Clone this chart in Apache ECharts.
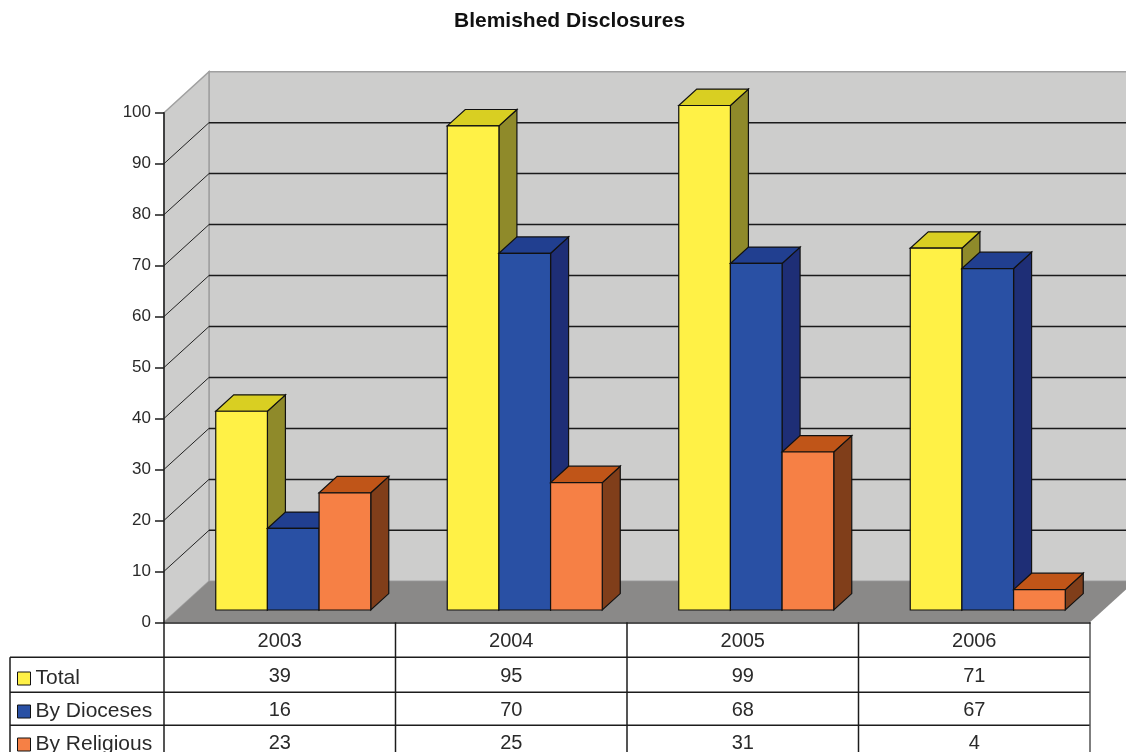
<!DOCTYPE html>
<html>
<head>
<meta charset="utf-8">
<style>html,body{margin:0;padding:0;background:#fff}#main{width:1126px;height:752px}</style>
<script src="https://cdn.jsdelivr.net/npm/echarts@6/dist/echarts.min.js"></script>
</head>
<body>
<div id="main"></div>
<script>
const categories = ['2003', '2004', '2005', '2006']
const total = [39, 95, 99, 71]
const byDioceses = [16, 70, 68, 67]
const byReligious = [23, 25, 31, 4]
const yTicks = [10, 20, 30, 40, 50, 60, 70, 80, 90]

// colours per series: front, top, side
const yellow = ['#fff146', '#d9cf22', '#8f8a2a']
const blue = ['#2950a4', '#213f90', '#1e2e76']
const orange = ['#f68045', '#c05518', '#803e1a']

// depth of the fake 3d box, in pixels
const depthX = 45
const depthY = 41
const font = 'Liberation Sans, Arial, sans-serif'
const lineColor = '#1c1c1c'

const chart = echarts.init(document.getElementById('main'))

function poly (points, fill, stroke, width) {
  return {
    type: 'polygon',
    shape: { points },
    style: { fill, stroke: stroke || '#111', lineWidth: width === undefined ? 1.2 : width }
  }
}

function seg (x1, y1, x2, y2, stroke, width) {
  return {
    type: 'line',
    shape: { x1, y1, x2, y2 },
    style: { stroke, lineWidth: width || 1.5, fill: null }
  }
}

function renderWalls (params, api) {
  const c = params.coordSys
  const l = c.x
  const r = c.x + c.width
  const t = c.y
  const b = c.y + c.height
  const children = [
    poly([[l + depthX, t - depthY], [r + depthX, t - depthY], [r + depthX, b - depthY], [l + depthX, b - depthY]], '#cdcdcc', '#a0a0a0', 1.5),
    poly([[l, t], [l + depthX, t - depthY], [l + depthX, b - depthY], [l, b]], '#cdcdcc', '#a0a0a0', 1.5),
    poly([[l, b], [l + depthX, b - depthY], [r + depthX, b - depthY], [r, b]], '#8a8988', '#8a8988', 0)
  ]
  yTicks.forEach(v => {
    const y = api.coord([0, v])[1]
    children.push(seg(l, y, l + depthX, y - depthY, '#222', 1))
    children.push(seg(l + depthX, y - depthY, r + depthX, y - depthY, '#1a1a1a', 1.5))
  })
  return { type: 'group', children }
}

function renderTable (params, api) {
  const c = params.coordSys
  const l = c.x
  const r = c.x + c.width
  const b = c.y + c.height
  const rows = [35, 70, 103]
  const children = []
  rows.forEach(dy => {
    children.push(seg(10, b + dy, r, b + dy, lineColor))
  })
  children.push(seg(10, b + 35, 10, 752, lineColor))
  categories.forEach((name, i) => {
    const x = l + c.width * i / categories.length
    children.push(seg(x, b, x, 752, lineColor))
  })
  children.push(seg(r, b, r, 752, '#555'))
  return { type: 'group', children }
}

function barSeries (name, values, index, colors) {
  return {
    name,
    type: 'custom',
    coordinateSystem: 'cartesian2d',
    z: 3,
    itemStyle: { color: colors[0], borderColor: '#111', borderWidth: 1 },
    data: values.map((v, i) => [i, v]),
    renderItem (params, api) {
      const band = api.size([1, 0])[0]
      const width = band * 0.2232
      const base = api.coord([api.value(0), 0])
      const top = api.coord([api.value(0), api.value(1)])
      // bars stand 30% into the floor and are 40% of it deep
      const x0 = base[0] - width * 1.5 + width * index + depthX * 0.3
      const x1 = x0 + width
      const y0 = base[1] - depthY * 0.3
      const y1 = top[1] - depthY * 0.3
      const dx = depthX * 0.4
      const dy = depthY * 0.4
      const rowY = params.coordSys.y + params.coordSys.height + [54, 88, 121][index]
      return {
        type: 'group',
        children: [
          poly([[x1, y1], [x1 + dx, y1 - dy], [x1 + dx, y0 - dy], [x1, y0]], colors[2]),
          poly([[x0, y1], [x0 + dx, y1 - dy], [x1 + dx, y1 - dy], [x1, y1]], colors[1]),
          poly([[x0, y1], [x1, y1], [x1, y0], [x0, y0]], colors[0]),
          {
            type: 'text',
            style: {
              x: base[0],
              y: rowY,
              text: String(api.value(1)),
              font: '20px ' + font,
              fill: '#2a2a2a',
              textAlign: 'center',
              textVerticalAlign: 'middle'
            }
          }
        ]
      }
    }
  }
}

chart.setOption({
  animation: false,
  title: {
    text: 'Blemished Disclosures',
    left: 449,
    top: 6,
    textStyle: { fontFamily: font, fontSize: 21, fontWeight: 'bold', color: '#111' }
  },
  legend: {
    orient: 'vertical',
    left: 17,
    top: 668,
    height: 120,
    padding: 0,
    itemWidth: 13,
    itemHeight: 13,
    itemGap: 12,
    icon: 'rect',
    selectedMode: false,
    textStyle: { fontFamily: font, fontSize: 21, color: '#2a2a2a' },
    data: [
      { name: 'Total', itemStyle: { color: yellow[0], borderColor: '#111', borderWidth: 1 } },
      { name: 'By Dioceses', itemStyle: { color: blue[0], borderColor: '#111', borderWidth: 1 } },
      { name: 'By Religious', itemStyle: { color: orange[0], borderColor: '#111', borderWidth: 1 } }
    ]
  },
  grid: { left: 164, right: 36, top: 112.7, height: 509.6 },
  xAxis: {
    type: 'category',
    data: categories,
    z: 5,
    axisLine: { lineStyle: { color: lineColor, width: 1.5 } },
    axisTick: { show: false },
    axisLabel: { fontFamily: font, fontSize: 20, color: '#2a2a2a', margin: 9 }
  },
  yAxis: {
    type: 'value',
    min: 0,
    max: 100,
    interval: 10,
    z: 5,
    axisLine: { show: true, lineStyle: { color: lineColor, width: 1.5 } },
    axisTick: { show: true, length: 9, lineStyle: { color: lineColor, width: 1.5 } },
    axisLabel: { fontFamily: font, fontSize: 17, color: '#2a2a2a', margin: 13 },
    splitLine: { show: false }
  },
  series: [
    { type: 'custom', silent: true, z: 1, data: [[0, 0]], renderItem: renderWalls },
    { type: 'custom', silent: true, z: 1, data: [[0, 0]], renderItem: renderTable },
    barSeries('Total', total, 0, yellow),
    barSeries('By Dioceses', byDioceses, 1, blue),
    barSeries('By Religious', byReligious, 2, orange)
  ]
})

window.addEventListener('resize', () => chart.resize())
</script>
</body>
</html>
